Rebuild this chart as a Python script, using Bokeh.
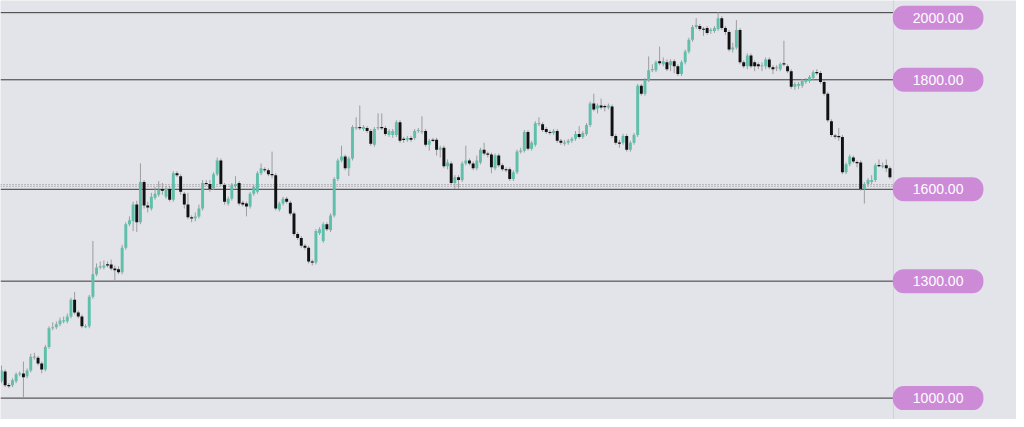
from bokeh.plotting import figure
from bokeh.models import ColumnDataSource, Range1d, Label, Span
from bokeh.embed import file_html
from bokeh.resources import INLINE

# ---------------- data ----------------
opens = [
    1055, 1080, 1045, 1045, 1055, 1072.5, 1075, 1067.5, 1082.5, 1115,
    1115, 1100, 1085, 1142.5, 1190, 1192.5, 1200, 1207.5, 1207.5, 1220,
    1262.5, 1230, 1220, 1192.5, 1195, 1270, 1327.5, 1345, 1345, 1352.5,
    1352.5, 1342.5, 1340, 1332.5, 1395, 1455, 1462.5, 1505, 1460, 1562.5,
    1502.5, 1495, 1522.5, 1530, 1545, 1525, 1545, 1517.5, 1585, 1577.5,
    1532.5, 1505, 1472.5, 1470, 1475, 1495, 1560, 1557.5, 1547.5, 1582.5,
    1617.5, 1555, 1507.5, 1520, 1552.5, 1560, 1510, 1507.5, 1500, 1532.5,
    1537.5, 1585, 1595, 1592.5, 1582.5, 1580, 1492.5, 1507.5, 1520, 1510,
    1482.5, 1430, 1420, 1400, 1395, 1360, 1357.5, 1432.5, 1412.5, 1455,
    1440, 1477.5, 1570, 1617.5, 1627.5, 1597.5, 1622.5, 1700, 1702.5, 1697.5,
    1700, 1692.5, 1657.5, 1700, 1702.5, 1700, 1682.5, 1682.5, 1682.5, 1715,
    1672.5, 1670, 1675, 1675, 1692.5, 1690, 1692.5, 1657.5, 1670, 1670,
    1645, 1650, 1602.5, 1610, 1560, 1575, 1567.5, 1610, 1617.5, 1610,
    1597.5, 1612.5, 1645, 1635, 1632.5, 1597.5, 1630, 1605, 1595, 1595,
    1570, 1587.5, 1640, 1642.5, 1690, 1647.5, 1657.5, 1710, 1710, 1697.5,
    1690, 1687.5, 1692.5, 1667.5, 1661, 1662.5, 1667.5, 1672.5, 1685, 1677.5,
    1685, 1707.5, 1762.5, 1750, 1757.5, 1755, 1752.5, 1755, 1680, 1662.5,
    1662.5, 1680, 1645, 1662.5, 1682.5, 1807.5, 1787.5, 1822.5, 1847.5, 1847.5,
    1870, 1862.5, 1867.5, 1860, 1870, 1857.5, 1837.5, 1867.5, 1895, 1925,
    1957.5, 1960, 1952.5, 1955, 1947.5, 1947.5, 1952.5, 1980, 1955, 1945,
    1900, 1905, 1950, 1867.5, 1857.5, 1885, 1867.5, 1862.5, 1857.5, 1857.5,
    1875, 1855, 1852.5, 1850, 1865, 1857.5, 1845, 1805, 1807.5, 1807.5,
    1817.5, 1820, 1827.5, 1842.5, 1840, 1817.5, 1787.5, 1717.5, 1680, 1679,
    1677.5, 1587.5, 1607.5, 1625, 1612.5, 1612.5, 1545, 1557.5, 1562.5, 1567.5,
    1605, 1602.5, 1605, 1597.5,
]
highs = [
    1095, 1085, 1050, 1062.5, 1077.5, 1080, 1105, 1087.5, 1125, 1127.5,
    1120, 1105, 1147.5, 1195, 1205, 1207.5, 1217.5, 1220, 1227.5, 1267.5,
    1282.5, 1235, 1225, 1200, 1275, 1412.5, 1355, 1360, 1362.5, 1360,
    1365, 1350, 1347.5, 1402.5, 1460, 1475, 1512.5, 1515, 1610, 1567.5,
    1512.5, 1535, 1550, 1565, 1560, 1552.5, 1552.5, 1590, 1590, 1582.5,
    1537.5, 1535, 1477.5, 1485, 1505, 1567.5, 1567.5, 1567.5, 1587.5, 1625,
    1622.5, 1560, 1525, 1560, 1577.5, 1565, 1515, 1512.5, 1537.5, 1555,
    1590, 1610, 1600, 1597.5, 1640, 1585, 1512.5, 1525, 1525, 1515,
    1487.5, 1435, 1425, 1405, 1400, 1365, 1442.5, 1447.5, 1460, 1460,
    1482.5, 1575, 1622.5, 1655, 1632.5, 1627.5, 1707.5, 1727.5, 1757.5, 1707.5,
    1705, 1697.5, 1702.5, 1737.5, 1737.5, 1705, 1697.5, 1697.5, 1720, 1720,
    1677.5, 1680, 1680, 1697.5, 1700, 1730, 1697.5, 1672.5, 1675, 1675,
    1655, 1655, 1620, 1615, 1580, 1580, 1615, 1655, 1622.5, 1615,
    1630, 1650, 1662.5, 1640, 1637.5, 1635, 1635, 1610, 1600, 1600,
    1592.5, 1645, 1650, 1695, 1695, 1667.5, 1717.5, 1727.5, 1715, 1702.5,
    1695, 1697.5, 1697.5, 1672.5, 1670, 1672.5, 1677.5, 1692.5, 1705, 1692.5,
    1712.5, 1767.5, 1787.5, 1762.5, 1775, 1760, 1762.5, 1760, 1685, 1670,
    1685, 1685, 1667.5, 1687.5, 1812.5, 1812.5, 1827.5, 1882.5, 1862.5, 1872.5,
    1907.5, 1880, 1875, 1875, 1875, 1862.5, 1872.5, 1900, 1930, 1962.5,
    1980, 1965, 1957.5, 1960, 1955, 1960, 1995, 1985, 1960, 1950,
    1917.5, 1975, 1955, 1872.5, 1890, 1890, 1872.5, 1867.5, 1867.5, 1880,
    1880, 1860, 1860, 1867.5, 1922.5, 1862.5, 1850, 1817.5, 1817.5, 1825,
    1827.5, 1835, 1847.5, 1850, 1845, 1822.5, 1792.5, 1722.5, 1685, 1700,
    1682.5, 1612.5, 1632.5, 1630, 1617.5, 1617.5, 1562.5, 1572.5, 1580, 1610,
    1620, 1612.5, 1620, 1602.5,
]
lows = [
    1050, 1040, 1037.5, 1040, 1050, 1067.5, 1012.5, 1062.5, 1077.5, 1110,
    1095, 1075, 1080, 1137.5, 1185, 1187.5, 1195, 1202.5, 1202.5, 1215,
    1225, 1215, 1190, 1190, 1190, 1265, 1322.5, 1340, 1340, 1345,
    1337.5, 1310, 1327.5, 1327.5, 1390, 1450, 1437.5, 1435, 1455, 1495,
    1485, 1490, 1517.5, 1525, 1530, 1520, 1512.5, 1512.5, 1575, 1530,
    1495, 1467.5, 1460, 1462.5, 1470, 1490, 1552.5, 1537.5, 1542.5, 1577.5,
    1552.5, 1505, 1502.5, 1515, 1547.5, 1502.5, 1500, 1475, 1495, 1527.5,
    1532.5, 1580, 1587.5, 1577.5, 1572.5, 1490, 1487.5, 1502.5, 1507.5, 1477.5,
    1425, 1415, 1395, 1390, 1355, 1350, 1352.5, 1427.5, 1407.5, 1437.5,
    1435, 1472.5, 1565, 1612.5, 1592.5, 1577.5, 1617.5, 1695, 1695, 1692.5,
    1687.5, 1655, 1652.5, 1695, 1695, 1680, 1677.5, 1675, 1677.5, 1662.5,
    1662.5, 1665, 1665, 1670, 1687.5, 1685, 1652.5, 1642.5, 1665, 1630,
    1625, 1597.5, 1595, 1555, 1545, 1545, 1562.5, 1605, 1605, 1592.5,
    1592.5, 1607.5, 1630, 1625, 1585, 1592.5, 1600, 1590, 1587.5, 1565,
    1565, 1582.5, 1635, 1637.5, 1642.5, 1642.5, 1652.5, 1705, 1690, 1685,
    1682.5, 1682.5, 1662.5, 1657.5, 1655, 1657.5, 1662.5, 1667.5, 1672.5, 1672.5,
    1680, 1702.5, 1742.5, 1737.5, 1747.5, 1742.5, 1747.5, 1675, 1657.5, 1650,
    1657.5, 1640, 1640, 1657.5, 1677.5, 1782.5, 1782.5, 1817.5, 1842.5, 1842.5,
    1860, 1857.5, 1845, 1845, 1840, 1832.5, 1832.5, 1862.5, 1890, 1920,
    1952.5, 1947.5, 1935, 1937.5, 1940, 1942.5, 1947.5, 1950, 1937.5, 1895,
    1892.5, 1900, 1862.5, 1852.5, 1850, 1852.5, 1845, 1850, 1845, 1850,
    1850, 1837.5, 1845, 1845, 1857.5, 1840, 1800, 1797.5, 1800, 1802.5,
    1812.5, 1815, 1822.5, 1835, 1812.5, 1782.5, 1715, 1677.5, 1672.5, 1667.5,
    1582.5, 1582.5, 1602.5, 1610, 1600, 1540, 1507.5, 1552.5, 1557.5, 1562.5,
    1600, 1597.5, 1587.5, 1570,
]
closes = [
    1082.5, 1045, 1042.5, 1057.5, 1072.5, 1075, 1065, 1082.5, 1117.5, 1117.5,
    1100, 1085, 1142.5, 1190, 1192.5, 1200, 1210, 1210, 1220, 1262.5,
    1230, 1220, 1195, 1195, 1270, 1327.5, 1345, 1347.5, 1350, 1350,
    1342.5, 1337.5, 1332.5, 1395, 1455, 1465, 1505, 1460, 1562.5, 1502.5,
    1497.5, 1525, 1532.5, 1542.5, 1540, 1545, 1517.5, 1585, 1580, 1537.5,
    1505, 1472.5, 1470, 1475, 1495, 1560, 1557.5, 1545, 1582.5, 1617.5,
    1557.5, 1512.5, 1520, 1555, 1557.5, 1507.5, 1505, 1500, 1532.5, 1550,
    1585, 1597.5, 1592.5, 1582.5, 1580, 1495, 1507.5, 1520, 1512.5, 1482.5,
    1430, 1420, 1400, 1395, 1360, 1357.5, 1437.5, 1442.5, 1455, 1442.5,
    1477.5, 1570, 1617.5, 1627.5, 1597.5, 1622.5, 1702.5, 1702.5, 1700, 1702.5,
    1692.5, 1660, 1697.5, 1702.5, 1700, 1685, 1692.5, 1692.5, 1715, 1667.5,
    1670, 1675, 1670, 1692.5, 1695, 1692.5, 1657.5, 1667.5, 1667.5, 1645,
    1650, 1602.5, 1612.5, 1560, 1575, 1567.5, 1610, 1617.5, 1610, 1597.5,
    1617.5, 1645, 1635, 1632.5, 1600, 1630, 1605, 1595, 1592.5, 1570,
    1587.5, 1640, 1642.5, 1690, 1647.5, 1662.5, 1712.5, 1712.5, 1695, 1690,
    1687.5, 1692.5, 1667.5, 1662.5, 1662.5, 1667.5, 1672.5, 1685, 1677.5, 1687.5,
    1707.5, 1762.5, 1747.5, 1757.5, 1752.5, 1754, 1757.5, 1680, 1662.5, 1661,
    1680, 1645, 1662.5, 1682.5, 1807.5, 1787.5, 1822.5, 1847.5, 1850, 1867.5,
    1865, 1870, 1850, 1870, 1857.5, 1837.5, 1867.5, 1895, 1925, 1957.5,
    1962.5, 1952.5, 1951, 1942.5, 1950, 1955, 1980, 1955, 1945, 1900,
    1905, 1950, 1867.5, 1857.5, 1885, 1857.5, 1857.5, 1857.5, 1860, 1875,
    1855, 1850, 1855, 1862.5, 1862.5, 1845, 1805, 1812.5, 1812.5, 1820,
    1822.5, 1830, 1842.5, 1840, 1817.5, 1787.5, 1720, 1682.5, 1679, 1677.5,
    1587.5, 1607.5, 1627.5, 1615, 1611, 1545, 1557.5, 1567.5, 1567.5, 1605,
    1604, 1604, 1597.5, 1575,
]

level_prices = [1994, 1823, 1544, 1310, 1012]
level_labels = ["2000.00", "1800.00", "1600.00", "1300.00", "1000.00"]
marker_prices = [1556, 1551.5]   # dotted price marker lines

# ---------------- styling ----------------
BG = "#e3e4ea"
UP = "#5fbfaa"
DOWN = "#111111"
WICK = "#9d9d9d"
LEVEL = "#383838"
TAG = "#cd8ad7"
SEP = "#d0d1d7"

W, H = 1016, 419
STEP = 3.685                       # px between candles in the reference
x_start, x_end = -1 / STEP, 1023 / STEP
y_top, y_bot = 2025.0, 2025.0 - 2.5 * 427
sep_x = 899 / STEP
tag_x = 944 / STEP

n = len(opens)
xs = list(range(n))
tops, bottoms, colors = [], [], []
for o, c in zip(opens, closes):
    hi, lo = max(o, c), min(o, c)
    if hi - lo < 3:
        m = (hi + lo) / 2
        hi, lo = m + 1.5, m - 1.5
    tops.append(hi)
    bottoms.append(lo)
    colors.append(UP if c > o else DOWN)

src = ColumnDataSource(dict(x=xs, high=highs, low=lows, top=tops, bottom=bottoms, color=colors))

p = figure(width=W, height=H, x_range=Range1d(x_start, x_end), y_range=Range1d(y_bot, y_top),
           output_backend="svg", toolbar_location=None, x_axis_location=None, y_axis_location=None,
           min_border=0, background_fill_color=BG, border_fill_color=BG, outline_line_color=None)
p.grid.visible = False

p.add_layout(Span(location=sep_x, dimension="height", line_color=SEP, line_width=1))

p.segment(x0=[x_start] * len(level_prices), x1=[sep_x] * len(level_prices),
          y0=level_prices, y1=level_prices, line_color=LEVEL, line_width=1)
p.segment(x0=[x_start] * len(marker_prices), x1=[sep_x] * len(marker_prices),
          y0=marker_prices, y1=marker_prices, line_color="#8a8a8a", line_width=1, line_dash="1 2")

p.segment(x0="x", x1="x", y0="low", y1="high", source=src, line_color=WICK, line_width=1)
p.vbar(x="x", width=0.8, top="top", bottom="bottom", source=src,
       fill_color="color", line_color=None)

for i, (lp, lt) in enumerate(zip(level_prices, level_labels)):
    p.add_layout(Label(x=tag_x, y=lp, text=lt, text_align="center", text_baseline="middle",
                       y_offset=-5 if i == 0 else 0,
                       text_font="Liberation Sans", text_font_size="14px", text_color="white",
                       background_fill_color=TAG, border_line_color=None,
                       padding=dict(left=20, right=20, top=7, bottom=7), border_radius=11))

open("out.html", "w").write(file_html(p, INLINE))
